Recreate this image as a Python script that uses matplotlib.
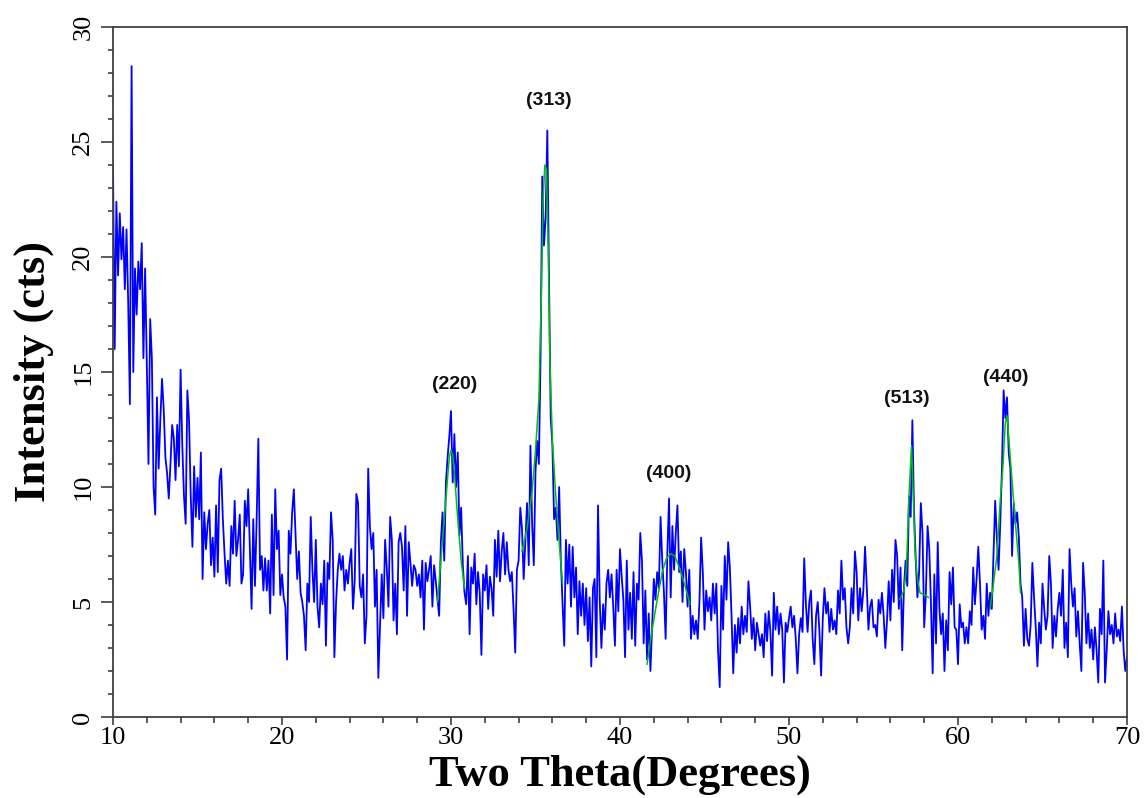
import numpy as np
import matplotlib
matplotlib.use("Agg")
import matplotlib.pyplot as plt
from matplotlib.ticker import MultipleLocator

# XRD scan, step 0.1 deg
two_theta = np.round(10 + 0.1 * np.arange(601), 1)

counts_10_20 = [
    24.0, 16.0, 22.4, 19.2, 21.9, 19.9, 21.3, 18.6, 21.2, 18.0,
    13.6, 28.3, 15.0, 19.5, 17.5, 19.8, 18.6, 20.6, 15.6, 19.5,
    15.4, 11.0, 17.3, 15.6, 10.0, 8.8, 13.9, 10.8, 12.9, 14.7,
    13.4, 11.3, 10.6, 9.5, 11.0, 12.7, 12.1, 10.3, 12.7, 10.9,
    15.1, 11.8, 9.6, 8.4, 14.2, 12.9, 9.6, 7.4, 10.9, 8.7,
    10.4, 8.6, 11.5, 6.0, 8.9, 7.3, 8.4, 9.0, 6.6, 7.8,
    6.1, 9.2, 6.3, 10.3, 10.8, 8.6, 7.1, 5.8, 6.8, 5.7,
    8.3, 7.1, 9.4, 7.0, 7.7, 8.8, 5.8, 6.2, 9.4, 8.3,
    9.9, 7.3, 4.7, 8.6, 5.7, 8.6, 12.1, 6.4, 7.0, 5.5,
    6.9, 5.5, 6.8, 4.5, 8.8, 5.3, 9.9, 7.3, 8.1, 5.3,
]
counts_20_30 = [
    6.2, 5.2, 4.8, 2.5, 8.1, 7.1, 8.9, 9.9, 7.9, 6.0,
    7.2, 5.4, 5.0, 4.4, 2.9, 5.8, 5.0, 8.7, 6.4, 5.0,
    7.7, 4.8, 3.9, 5.8, 4.9, 6.8, 3.1, 6.7, 6.0, 8.9,
    7.7, 2.6, 5.0, 6.4, 7.1, 6.4, 7.0, 5.5, 6.4, 5.8,
    6.7, 7.3, 4.7, 5.9, 9.7, 9.3, 5.7, 5.2, 6.2, 3.2,
    4.4, 10.8, 8.3, 7.3, 8.0, 4.8, 6.4, 1.7, 3.9, 6.2,
    4.3, 7.7, 6.5, 4.8, 8.7, 7.7, 4.2, 5.8, 3.6, 7.6,
    8.0, 7.4, 5.5, 8.3, 4.4, 7.6, 6.7, 5.7, 6.6, 6.4,
    5.7, 6.2, 5.2, 6.8, 3.8, 6.7, 5.9, 6.4, 7.0, 4.8,
    6.6, 5.9, 5.1, 4.4, 7.6, 8.9, 6.8, 10.2, 11.3, 12.2,
]
counts_30_40 = [
    13.3, 10.2, 12.3, 10.0, 11.5, 7.9, 9.1, 6.6, 5.4, 4.9,
    7.0, 3.6, 6.5, 5.8, 7.1, 4.9, 6.3, 5.4, 2.7, 6.2,
    5.5, 6.6, 4.7, 6.1, 5.6, 4.4, 7.7, 6.1, 8.1, 5.9,
    7.2, 8.0, 6.2, 7.6, 6.4, 5.9, 6.3, 4.7, 2.8, 6.4,
    6.8, 9.1, 8.2, 6.0, 7.7, 9.3, 6.6, 11.8, 8.4, 6.6,
    10.7, 12.0, 11.0, 15.7, 23.5, 20.5, 21.7, 25.5, 19.0, 13.0,
    11.8, 8.6, 9.1, 7.7, 10.0, 6.8, 5.0, 3.1, 7.7, 5.8,
    7.5, 4.8, 7.4, 5.2, 6.5, 3.6, 5.9, 4.4, 5.8, 4.0,
    5.6, 3.3, 5.2, 2.2, 5.6, 6.0, 2.6, 9.2, 5.1, 3.0,
    4.9, 3.8, 5.8, 6.4, 5.2, 6.2, 4.8, 3.1, 6.4, 4.6,
]
counts_40_50 = [
    7.3, 6.1, 5.1, 2.6, 6.8, 3.8, 5.4, 3.4, 6.3, 3.1,
    5.8, 5.1, 8.0, 6.8, 3.2, 5.5, 2.5, 4.5, 2.0, 3.9,
    6.0, 5.1, 6.3, 5.6, 8.7, 6.8, 5.4, 3.4, 7.1, 9.5,
    5.2, 8.3, 6.4, 8.0, 9.2, 6.3, 7.2, 5.0, 7.3, 6.3,
    4.8, 6.4, 3.4, 4.4, 3.6, 4.2, 3.4, 5.0, 7.8, 6.3,
    3.8, 5.5, 4.6, 5.2, 4.2, 5.8, 4.5, 5.8, 2.9, 1.3,
    5.7, 3.8, 7.0, 5.1, 7.6, 6.5, 4.4, 1.9, 4.0, 2.8,
    4.3, 3.2, 4.8, 3.6, 4.4, 3.7, 5.9, 4.8, 3.4, 4.3,
    2.9, 4.1, 3.6, 3.1, 3.6, 2.6, 4.5, 3.3, 4.6, 3.7,
    1.8, 5.4, 3.8, 4.8, 3.6, 4.5, 3.8, 1.5, 4.1, 3.7,
]
counts_50_60 = [
    4.3, 4.8, 3.9, 4.4, 3.4, 1.9, 3.6, 4.3, 3.7, 6.9,
    4.9, 3.7, 5.0, 5.5, 3.4, 2.3, 4.4, 5.0, 3.7, 1.8,
    4.3, 5.6, 4.5, 5.0, 3.7, 4.7, 3.8, 4.2, 3.6, 5.5,
    4.5, 6.8, 5.1, 5.6, 3.9, 3.2, 3.9, 5.6, 4.5, 7.2,
    6.3, 4.2, 5.6, 4.6, 5.5, 7.4, 5.7, 3.8, 4.8, 5.1,
    3.9, 4.0, 3.5, 5.1, 4.5, 5.4, 4.4, 3.0, 4.2, 5.9,
    4.2, 6.4, 5.0, 7.7, 7.0, 4.7, 6.5, 2.9, 5.6, 6.8,
    5.7, 9.6, 8.7, 12.9, 8.9, 6.8, 5.2, 6.3, 9.3, 8.0,
    3.9, 5.4, 8.3, 7.3, 4.9, 1.9, 6.2, 3.2, 7.6, 4.7,
    3.6, 4.5, 2.0, 4.2, 2.9, 6.3, 4.9, 6.5, 3.9, 3.8,
]
counts_60_70 = [
    2.3, 4.9, 3.9, 4.1, 3.2, 3.9, 3.2, 4.6, 4.0, 6.5,
    4.9, 6.0, 7.4, 5.8, 3.8, 4.4, 3.4, 5.8, 4.4, 5.4,
    4.7, 7.0, 9.4, 7.8, 6.4, 8.4, 10.8, 14.2, 13.0, 13.9,
    11.5, 10.8, 7.0, 9.3, 8.4, 8.9, 7.8, 5.8, 5.2, 3.1,
    4.7, 3.4, 3.1, 4.0, 6.7, 5.2, 3.9, 2.2, 4.1, 3.2,
    5.8, 4.7, 3.8, 4.4, 7.0, 5.8, 3.0, 4.4, 3.5, 4.7,
    5.4, 4.4, 6.4, 3.0, 4.1, 2.6, 7.3, 5.8, 4.8, 5.6,
    3.5, 4.6, 3.2, 2.0, 6.7, 5.4, 3.2, 4.5, 3.0, 3.8,
    2.5, 3.9, 2.9, 1.5, 4.7, 3.6, 6.8, 1.5, 2.9, 4.6,
    3.6, 4.0, 3.2, 4.5, 3.5, 3.8, 3.3, 4.8, 2.9, 2.0,
    2.6,
]
counts = np.array(counts_10_20 + counts_20_30 + counts_30_40
                  + counts_40_50 + counts_50_60 + counts_60_70)

# fitted peak profiles (green)
fit_220_x = [29.2, 29.4, 29.6, 29.8, 29.9, 30.0, 30.1, 30.2, 30.4, 30.6, 30.8]
fit_220_y = [5.0, 6.8, 8.6, 10.4, 11.3, 11.6, 11.4, 10.6, 8.6, 6.8, 5.6]
fit_313_x = [34.2, 34.5, 34.8, 35.0, 35.2, 35.35, 35.45, 35.55, 35.65, 35.75, 35.85, 36.0, 36.2, 36.4, 36.6]
fit_313_y = [7.2, 8.2, 9.8, 11.6, 13.8, 18.5, 22.5, 24.0, 23.8, 20.5, 15.5, 12.0, 9.6, 7.6, 5.8]
fit_400_x = [41.6, 41.9, 42.2, 42.5, 42.75, 43.0, 43.25, 43.55, 43.85, 44.15]
fit_400_y = [2.3, 3.8, 5.1, 6.3, 6.9, 7.1, 7.0, 6.4, 5.7, 4.9]
fit_513_x = [56.55, 56.8, 56.95, 57.1, 57.25, 57.35, 57.45, 57.6, 57.75, 58.05, 58.25]
fit_513_y = [5.1, 5.5, 6.5, 9.6, 11.8, 9.7, 7.3, 6.0, 5.4, 5.3, 5.2]
fit_440_x = [61.9, 62.1, 62.3, 62.5, 62.65, 62.8, 62.9, 63.0, 63.1, 63.3, 63.4, 63.6, 63.7]
fit_440_y = [4.7, 5.8, 7.0, 9.4, 10.8, 12.8, 13.1, 12.2, 11.2, 9.3, 8.4, 6.7, 5.4]

peak_labels = ["(220)", "(313)", "(400)", "(513)", "(440)"]
label_x = [30.2, 35.8, 42.9, 57.0, 62.8]
label_y = [14.45, 26.8, 10.6, 13.85, 14.75]

fig = plt.figure(figsize=(11.44, 7.98), dpi=100)
ax = fig.add_axes([113 / 1144, 1 - 717 / 798, 1014 / 1144, 690 / 798])

ax.plot(two_theta, counts, color="#0000ff", lw=1.3)
for fx, fy in [(fit_220_x, fit_220_y), (fit_313_x, fit_313_y), (fit_400_x, fit_400_y),
               (fit_513_x, fit_513_y), (fit_440_x, fit_440_y)]:
    ax.plot(fx, fy, color="#00c000", lw=1.1)

for lab, lx, ly in zip(peak_labels, label_x, label_y):
    ax.text(lx, ly, lab, ha="center", va="center", fontsize=14,
            fontweight="bold", family="Liberation Sans", color="#111111")

ax.set_xlim(10, 70)
ax.set_ylim(0, 30)
ax.xaxis.set_major_locator(MultipleLocator(10))
ax.xaxis.set_minor_locator(MultipleLocator(2))
ax.yaxis.set_major_locator(MultipleLocator(5))
ax.yaxis.set_minor_locator(MultipleLocator(1))

for s in ax.spines.values():
    s.set_color("#404040")
    s.set_linewidth(1.3)
ax.tick_params(axis="both", which="both", direction="out", color="#404040", width=1.2)
ax.tick_params(axis="y", which="major", length=8.5, pad=5)
ax.tick_params(axis="y", which="minor", length=3.5)
ax.tick_params(axis="x", which="major", length=6, pad=1)
ax.tick_params(axis="x", which="minor", length=4)

for t in ax.get_xticklabels() + ax.get_yticklabels():
    t.set_family("Liberation Serif")
    t.set_fontsize(19)
for t in ax.get_yticklabels():
    t.set_rotation(90)
    t.set_va("center")

ax.set_xlabel("Two Theta(Degrees)", family="Liberation Serif", fontweight="bold", fontsize=32)
ax.set_ylabel("Intensity (cts)", family="Liberation Serif", fontweight="bold", fontsize=32)
ax.xaxis.set_label_coords(0.5, -0.054)
ax.yaxis.set_label_coords(-0.058, 0.5)

fig.savefig("out.png", dpi=100)
